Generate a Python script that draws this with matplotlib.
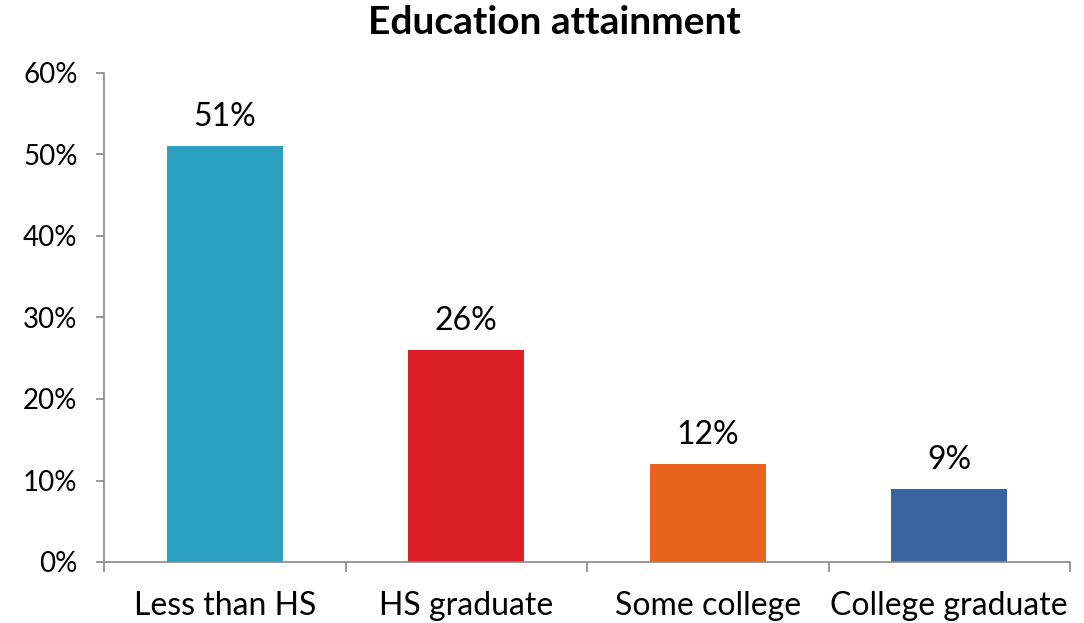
import numpy as np
import matplotlib.pyplot as plt
from matplotlib.ticker import PercentFormatter

# data
categories = ['Less than HS', 'HS graduate', 'Some college', 'College graduate']
values = [51, 26, 12, 9]
colors = ['#2CA1BF', '#DA1F28', '#E8641E', '#39649C']

plt.rcParams['font.family'] = ['Lato', 'DejaVu Sans']

fig = plt.figure(figsize=(10.84, 6.23), dpi=100)
ax = fig.add_axes([104/1084, 1-562/623, (1070-104)/1084, (562-73)/623])

x = np.arange(len(categories))
bars = ax.bar(x, values, width=0.48, color=colors, zorder=2)

# value labels above bars
for xi, v in zip(x, values):
    ax.annotate('%d%%' % v, (xi, v), xytext=(0, 10), textcoords='offset points',
                ha='center', va='bottom', fontsize=23)

ax.set_xlim(-0.5, len(categories) - 0.5)
ax.set_ylim(0, 60)
ax.set_yticks(np.arange(0, 61, 10))
ax.yaxis.set_major_formatter(PercentFormatter(decimals=0))

ax.set_xticks(x)
ax.set_xticklabels(categories)
ax.set_xticks(np.arange(-0.5, len(categories), 1), minor=True)
ax.tick_params(axis='x', which='major', length=0, pad=21, labelsize=23)
ax.tick_params(axis='x', which='minor', length=7, width=1.2, color='#888888', direction='out')
ax.tick_params(axis='y', length=6, width=1.2, color='#888888', pad=13, labelsize=20)

for s in ['top', 'right']:
    ax.spines[s].set_visible(False)
for s in ['left', 'bottom']:
    ax.spines[s].set_color('#888888')
    ax.spines[s].set_linewidth(1.2)

fig.text(554/1084, 1-34/623, 'Education attainment', ha='center', va='baseline',
         fontsize=28, fontweight='bold')

fig.savefig('out.png', dpi=100)
